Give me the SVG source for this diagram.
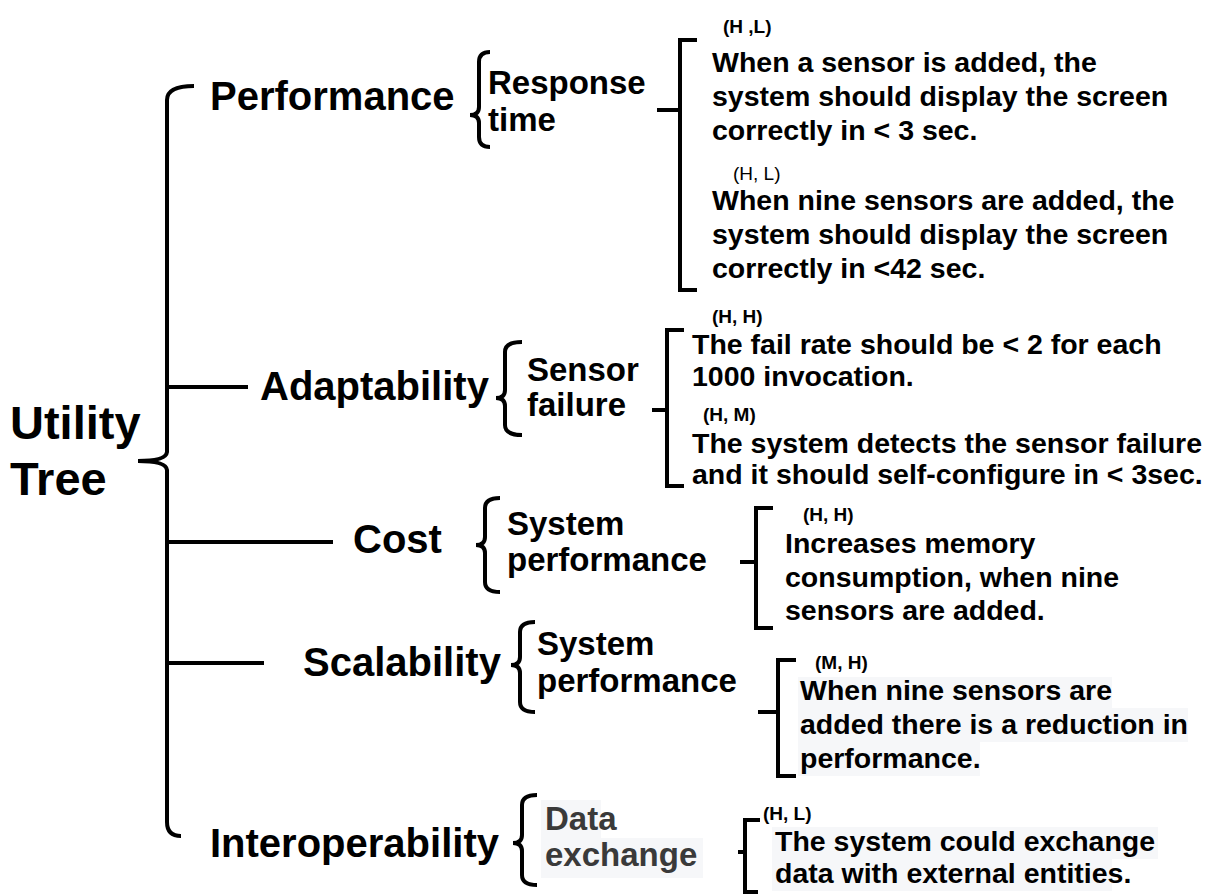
<svg xmlns="http://www.w3.org/2000/svg" width="1209" height="896" viewBox="0 0 1209 896">
  <style>
    text { font-family: "Liberation Sans", Arial, sans-serif; font-weight: bold; fill: #000; }
    .root { font-size: 47px; }
    .l1 { font-size: 40px; }
    .l2 { font-size: 33px; }
    .l3 { font-size: 28.5px; }
    .pr { font-size: 19px; }
    .grey { fill: #3a3a3a; }
    .hl { fill: #f6f7f9; }
    .br { fill: none; stroke: #000; stroke-width: 4; }
  </style>
  <rect width="1209" height="896" fill="#fff"/>

  <!-- connectors: braces, brackets and branch lines -->
  <g id="connectors">
    <!-- main brace of the tree -->
    <path class="br" d="M194,86 Q167,86 167,100 L167,452 Q166,461 138,461 M138,461 Q166,461 167,470 L167,822 Q167,836 181,836"/>
    <path class="br" d="M167,387 H248 M167,542 H333 M167,663 H264"/>
    <!-- attribute braces -->
    <path class="br" d="M490,52 Q479,52 479,62 L479,107 Q479,115 470,115 Q479,115 479,123 L479,137 Q479,147 490,147"/>
    <path class="br" d="M522,342 Q505,342 505,352 L505,390 Q505,398 496,398 Q505,398 505,406 L505,425 Q505,435 522,435"/>
    <path class="br" d="M500,498 Q485,498 485,508 L485,537 Q485,545 476,545 Q485,545 485,553 L485,582 Q485,592 500,592"/>
    <path class="br" d="M535,622 Q520,622 520,632 L520,657 Q520,665 511,665 Q520,665 520,673 L520,702 Q520,712 535,712"/>
    <path class="br" d="M537,795 Q522,795 522,805 L522,835 Q522,843 513,843 Q522,843 522,851 L522,875 Q522,885 537,885"/>
    <!-- scenario brackets -->
    <path class="br" d="M697,40 H680 V290 H697 M657,110 H680"/>
    <path class="br" d="M684,330 H667 V486 H684 M652,410 H667"/>
    <path class="br" d="M773,508 H756 V628 H773 M740,562 H756"/>
    <path class="br" d="M796,660 H778 V776 H796 M758,712 H778"/>
    <path class="br" d="M760,820 H745 V892 H758 M738,852 H745"/>
  </g>

  <g id="root">
    <text class="root" x="10" y="439">Utility</text>
    <text class="root" x="10" y="495">Tree</text>
  </g>

  <g id="performance">
    <text class="l1" x="210" y="110">Performance</text>
  </g>
  <g id="response-time">
    <text class="l2" x="488" y="94">Response</text>
    <text class="l2" x="488" y="131">time</text>
  </g>
  <g id="scenario-one-sensor">
    <text class="pr" x="723" y="33">(H ,L)</text>
    <text class="l3" x="712" y="72">When a sensor is added, the</text>
    <text class="l3" x="712" y="106">system should display the screen</text>
    <text class="l3" x="712" y="140">correctly in &lt; 3 sec.</text>
  </g>
  <g id="scenario-nine-sensors">
    <text class="pr" x="733" y="180" style="font-weight:normal">(H, L)</text>
    <text class="l3" x="712" y="210">When nine sensors are added, the</text>
    <text class="l3" x="712" y="244">system should display the screen</text>
    <text class="l3" x="712" y="278">correctly in &lt;42 sec.</text>
  </g>

  <g id="adaptability">
    <text class="l1" x="260" y="400">Adaptability</text>
  </g>
  <g id="sensor-failure">
    <text class="l2" x="527" y="381">Sensor</text>
    <text class="l2" x="527" y="416">failure</text>
  </g>
  <g id="scenario-fail-rate">
    <text class="pr" x="712" y="323">(H, H)</text>
    <text class="l3" x="692" y="354">The fail rate should be &lt; 2 for each</text>
    <text class="l3" x="692" y="386">1000 invocation.</text>
  </g>
  <g id="scenario-self-configure">
    <text class="pr" x="703" y="421">(H, M)</text>
    <text class="l3" x="692" y="453">The system detects the sensor failure</text>
    <text class="l3" x="692" y="484">and it should self-configure in &lt; 3sec.</text>
  </g>

  <g id="cost">
    <text class="l1" x="353" y="553">Cost</text>
  </g>
  <g id="cost-system-performance">
    <text class="l2" x="507" y="535">System</text>
    <text class="l2" x="507" y="571">performance</text>
  </g>
  <g id="scenario-memory">
    <text class="pr" x="803" y="521">(H, H)</text>
    <text class="l3" x="785" y="553">Increases memory</text>
    <text class="l3" x="785" y="587">consumption, when nine</text>
    <text class="l3" x="785" y="620">sensors are added.</text>
  </g>

  <g id="scalability">
    <text class="l1" x="303" y="676">Scalability</text>
  </g>
  <g id="scalability-system-performance">
    <text class="l2" x="537" y="655">System</text>
    <text class="l2" x="537" y="692">performance</text>
  </g>
  <g id="scenario-reduction">
    <rect class="hl" x="798" y="677" width="314" height="31"/>
    <rect class="hl" x="798" y="708" width="390" height="34"/>
    <rect class="hl" x="798" y="742" width="182" height="34"/>
    <text class="pr" x="815" y="669">(M, H)</text>
    <text class="l3" x="800" y="700">When nine sensors are</text>
    <text class="l3" x="800" y="734">added there is a reduction in</text>
    <text class="l3" x="800" y="768">performance.</text>
  </g>

  <g id="interoperability">
    <text class="l1" x="210" y="857">Interoperability</text>
  </g>
  <g id="data-exchange">
    <rect class="hl" x="541" y="800" width="60" height="38"/>
    <rect class="hl" x="541" y="838" width="162" height="40"/>
    <text class="l2 grey" x="545" y="830">Data</text>
    <text class="l2 grey" x="545" y="866">exchange</text>
  </g>
  <g id="scenario-exchange">
    <rect class="hl" x="772" y="827" width="386" height="32"/>
    <rect class="hl" x="772" y="859" width="340" height="32"/>
    <text class="pr" x="763" y="820">(H, L)</text>
    <text class="l3" x="775" y="851">The system could exchange</text>
    <text class="l3" x="775" y="883">data with external entities.</text>
  </g>
</svg>
